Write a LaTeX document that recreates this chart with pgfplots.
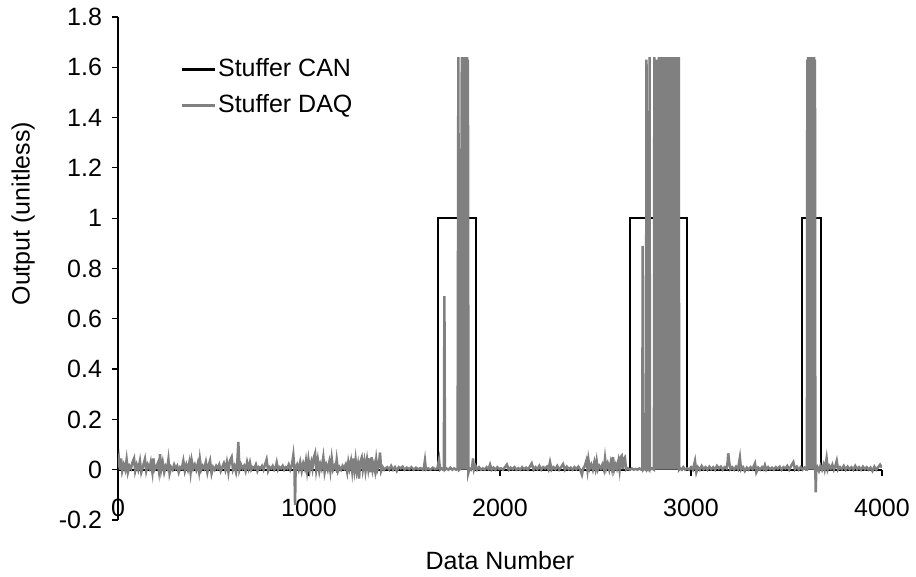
\documentclass[border=0pt]{standalone}
\usepackage{pgfplots}
\pgfplotsset{compat=1.18}
\usepackage{fontspec}
\setmainfont{Liberation Sans}
\definecolor{daqgray}{RGB}{128,128,128}
\begin{document}
\begin{tikzpicture}
\begin{axis}[
  scale only axis,
  width=382pt, height=251.5pt,
  xmin=0, xmax=4000, ymin=-0.2, ymax=1.8,
  axis x line=middle, axis y line=left,
  axis line style={-, black, line width=0.6pt},
  xtick={0,1000,2000,3000,4000},
  ytick={-0.2,0,0.2,0.4,0.6,0.8,1,1.2,1.4,1.6,1.8},
  tick align=outside,
  xtick align=outside, ytick align=outside,
  major tick length=3pt,
  tick style={black, line width=0.6pt},
  hide obscured x ticks=false, hide obscured y ticks=false,
  /pgf/number format/assume math mode=true,
  /pgf/number format/1000 sep={},
  scaled ticks=false,
  ticklabel style={font=\fontsize{12.5}{14}\selectfont},
  xticklabel style={yshift=-8pt},
  yticklabel style={xshift=-1.5pt},
  xlabel={Data Number},
  ylabel={Output (unitless)},
  label style={font=\fontsize{12.5}{14}\selectfont},
  xlabel style={at={(axis description cs:0.5,-0.0815)}, anchor=center},
  ylabel style={at={(axis description cs:-0.124,0.609)}, anchor=center, rotate=0},
  legend style={draw=none, fill=none, at={(axis description cs:0.081,0.922)}, anchor=north west,
    inner sep=0pt, row sep=5.5pt, font=\fontsize{12.5}{14}\selectfont,
    nodes={inner sep=1pt}},
  legend cell align=left,
  /tikz/every even column/.append style={column sep=2.5pt},
  legend image code/.code={\draw[#1, line width=1.4pt] (0pt,0pt) -- (16.5pt,0pt);},
  clip=true,
]
\addplot[black, line width=1.1pt] coordinates {
(0,0) (1675,0) (1675,1) (1875,1) (1875,0) (2681,0) (2681,1) (2978,1) (2978,0)
(3580,0) (3580,1) (3681,1) (3681,0) (4000,0)
};
\addlegendentry{Stuffer CAN}
\addplot[daqgray, line width=1.25pt] coordinates {
(0,0.01) (5,0.04) (10,0.0) (16,0.045) (22,-0.005) (30,0.02) (38,0.0) (45,0.04) (52,-0.01) (60,0.015)
(68,0.005) (76,0.03) (84,0.045) (90,-0.005) (98,0.02) (106,0.0) (115,0.035) (122,-0.01) (130,0.01)
(141,0.042) (148,-0.005) (156,0.02) (165,0.005) (172,0.03) (180,-0.01) (185,0.045) (192,0.0) (200,0.01)
(208,0.025) (214,-0.005) (220,0.062) (226,0.0) (234,0.03) (242,-0.01) (250,0.015) (258,0.005) (264,0.04)
(270,-0.015) (278,0.01) (286,0.0) (294,0.02) (302,0.005) (310,0.015) (318,-0.01) (326,0.01) (334,0.005)
(342,0.035) (350,-0.005) (358,0.02) (366,0.0) (374,0.03) (380,-0.01) (386,0.036) (394,0.005) (402,0.02)
(410,0.0) (418,0.025) (424,-0.005) (429,0.04) (436,0.0) (444,0.015) (452,0.005) (460,0.03) (468,-0.01)
(476,0.02) (482,0.036) (490,-0.015) (498,0.01) (506,0.0) (514,0.015) (522,0.005) (530,0.02) (538,-0.005)
(546,0.01) (554,0.025) (562,0.0) (570,0.03) (578,-0.01) (586,0.035) (595,0.05) (602,0.0) (610,0.015)
(618,-0.01) (624,0.02) (630,0.11) (636,0.0) (644,0.02) (652,0.005) (660,0.015) (668,-0.005) (676,0.03)
(684,0.005) (691,0.028) (698,0.0) (706,0.01) (714,0.005) (722,0.02) (730,-0.005) (738,0.01) (746,0.005)
(754,0.015) (762,0.0) (770,0.02) (778,0.04) (786,-0.005) (794,0.01) (802,0.005) (810,0.015) (818,0.0)
(826,0.01) (831,0.028) (838,0.0) (846,0.01) (854,0.005) (862,0.015) (870,0.0) (878,0.01) (886,0.005)
(894,0.02) (902,0.0) (910,0.015) (918,0.058) (924,0.0) (927,-0.14) (930,0.005) (938,0.02) (946,0.0)
(954,0.03) (962,-0.005) (970,0.025) (978,0.005) (984,0.035) (990,-0.005) (997,0.04) (1004,0.0) (1012,0.03)
(1018,0.005) (1024,0.045) (1032,0.065) (1038,0.0) (1046,0.04) (1054,-0.005) (1060,0.02) (1066,0.005)
(1075,0.05) (1082,-0.01) (1090,0.02) (1098,0.0) (1106,0.03) (1112,-0.005) (1119,0.045) (1126,0.0)
(1134,0.015) (1140,0.005) (1145,0.04) (1152,-0.005) (1160,0.01) (1168,0.0) (1176,0.015) (1184,0.005)
(1192,0.02) (1200,-0.01) (1206,0.03) (1212,0.005) (1220,0.035) (1226,-0.005) (1232,0.045) (1238,0.0)
(1244,0.04) (1250,-0.005) (1256,0.02) (1262,-0.035) (1268,0.03) (1276,0.048) (1282,0.0) (1290,0.035)
(1296,-0.005) (1304,0.04) (1310,0.005) (1316,0.045) (1322,-0.01) (1328,0.05) (1334,0.0) (1340,0.02)
(1346,-0.005) (1352,0.04) (1358,0.0) (1366,0.02) (1372,0.068) (1378,-0.005) (1386,0.01) (1394,0.0)
(1400,0.005) (1410,0.01) (1420,0.0) (1430,0.015) (1440,0.0) (1450,0.01) (1460,-0.005) (1470,0.01)
(1480,0.005) (1490,0.012) (1500,0.0) (1512,0.008) (1524,0.002) (1536,0.01) (1548,0.0) (1560,0.008)
(1572,0.002) (1584,0.006) (1596,0.0) (1602,0.01) (1607,0.037) (1612,0.0) (1624,0.005) (1636,0.0)
(1648,0.008) (1660,0.002) (1672,0.005) (1681,0.04) (1686,0.0) (1694,0.005) (1702,0.0)
(1706,0.0) (1709,0.69) (1712,0.0) (1720,0.005) (1730,0.0) (1740,0.008) (1750,0.0) (1760,0.005) (1770,0.0)
(1778,0.003) (1782,1.64) (1786,0.0) (1793,0.005)
(1800,1.64) (1802,0.0) (1804,1.64) (1806,0.0) (1808,1.63) (1810,0.0) (1812,1.64) (1814,0.0) (1816,1.64)
(1818,0.0) (1820,1.63) (1822,0.0) (1824,1.64) (1826,0.0) (1828,1.64) (1830,0.0) (1832,1.63) (1835,-0.01)
(1840,0.005) (1848,0.0) (1854,0.01) (1859,0.045) (1864,0.0) (1872,0.015) (1880,0.0)
(1890,0.01) (1900,0.0) (1910,0.005) (1920,0.0) (1930,0.01) (1940,0.002) (1948,0.02) (1956,0.0) (1966,0.008)
(1976,0.0) (1986,0.01) (1996,0.002) (2006,0.005) (2016,0.0) (2026,0.01) (2036,0.02) (2046,0.0) (2056,0.008)
(2066,0.002) (2076,0.01) (2086,0.0) (2096,0.006) (2106,0.0) (2116,0.01) (2126,0.002) (2136,0.008) (2146,0.0)
(2156,0.012) (2166,0.025) (2176,0.0) (2186,0.01) (2196,0.002) (2206,0.015) (2216,0.0) (2226,0.01)
(2236,0.005) (2246,0.012) (2254,0.0) (2262,0.03) (2270,0.0) (2280,0.01) (2290,0.002) (2300,0.015) (2310,0.0)
(2320,0.01) (2330,0.022) (2340,0.0) (2350,0.012) (2360,0.002) (2370,0.008) (2380,0.0) (2390,0.01)
(2400,0.002) (2410,0.012) (2420,0.0) (2429,-0.02) (2436,0.005) (2444,0.015) (2452,0.035) (2458,0.0)
(2463,0.04) (2470,0.005) (2478,0.02) (2486,0.0) (2494,0.03) (2500,0.005) (2506,0.035) (2512,0.0)
(2520,0.015) (2528,0.005) (2536,0.02) (2544,0.0) (2550,0.045) (2556,0.005) (2564,0.025) (2572,0.0)
(2580,0.03) (2586,0.005) (2592,0.05) (2598,0.0) (2606,0.02) (2612,0.005) (2620,0.035) (2626,0.0)
(2632,0.05) (2637,0.055) (2642,0.002) (2648,0.045) (2654,0.05) (2660,0.0) (2670,0.005) (2680,0.0)
(2690,0.005) (2700,0.0) (2710,0.003) (2720,0.0) (2730,0.005) (2740,0.0) (2745,0.0) (2747,0.89) (2750,0.0)
(2756,0.005) (2764,0.0) (2767,1.63) (2770,0.0) (2776,0.005) (2781,0.0) (2783,1.64) (2785,0.0) (2795,0.005)
(2806,0.0) (2808,1.64) (2811,0.0) (2813,1.63) (2816,0.0) (2819,1.04) (2822,0.0) (2826,1.63) (2829,0.0)
(2832,1.64) (2834,0) (2836,1.63) (2838,0) (2840,1.64) (2842,0) (2844,1.64) (2846,0) (2848,1.63) (2850,0)
(2852,1.64) (2854,0) (2856,1.64) (2858,0) (2860,1.63) (2862,0) (2864,1.64) (2866,0) (2868,1.64) (2870,0)
(2872,1.63) (2874,0) (2876,1.64) (2878,0) (2880,1.64) (2882,0) (2884,1.63) (2886,0) (2888,1.64) (2890,0)
(2892,1.64) (2894,0) (2896,1.63) (2898,0) (2900,1.64) (2902,0) (2904,1.64) (2906,0) (2908,1.63) (2910,0)
(2912,1.64) (2914,0) (2916,1.64) (2918,0) (2920,1.63) (2922,0) (2924,1.64) (2926,0) (2928,1.64) (2930,0)
(2932,1.63) (2934,0) (2936,1.64) (2938,0.0)
(2944,0.005) (2952,0.0) (2960,0.01) (2970,0.0) (2980,0.005)
(2990,0.0) (3000,0.01) (3010,0.0) (3021,0.035) (3028,-0.01) (3036,0.01) (3046,0.0) (3056,0.015) (3066,0.002)
(3076,0.01) (3086,0.0) (3096,0.012) (3106,0.002) (3116,0.01) (3126,0.0) (3136,0.015) (3146,0.005)
(3156,0.012) (3166,0.0) (3176,0.01) (3186,0.005) (3192,0.03) (3195,0.065) (3200,0.03) (3206,0.002)
(3216,0.01) (3226,0.0) (3236,0.012) (3246,0.002) (3256,0.048) (3262,0.0) (3272,0.01) (3282,-0.005)
(3292,0.008) (3302,0.0) (3312,0.01) (3322,0.002) (3335,0.025) (3342,-0.01) (3352,0.008) (3362,0.0)
(3372,0.01) (3380,0.002) (3387,0.018) (3394,0.0) (3404,0.01) (3414,0.002) (3424,0.008) (3434,0.0)
(3444,0.01) (3454,0.004) (3464,0.012) (3474,0.0) (3484,0.01) (3494,0.005) (3504,0.015) (3514,0.0)
(3524,0.015) (3536,0.03) (3544,0.002) (3554,0.012) (3564,0.0) (3574,0.01) (3584,0.0) (3594,0.008)
(3602,0.0) (3607,0.0)
(3609,1.63) (3611,0) (3613,1.64) (3615,0) (3617,1.63) (3619,0) (3621,1.64) (3623,0) (3625,1.63) (3627,0)
(3629,1.64) (3631,0) (3633,1.63) (3635,0) (3637,1.64) (3639,0) (3641,1.63) (3643,0) (3645,1.64) (3647,0)
(3649,1.63) (3651,0.0) (3653,-0.09) (3656,0.0) (3662,0.01) (3670,-0.005) (3678,0.015) (3686,0.0)
(3694,0.02) (3700,0.0) (3705,0.02) (3710,0.045) (3716,0.0) (3724,0.015) (3732,0.005) (3740,0.02)
(3748,0.0) (3756,0.015) (3763,0.035) (3770,0.0) (3780,0.01) (3790,0.002) (3800,0.015) (3810,0.0)
(3820,0.012) (3830,0.002) (3840,0.01) (3850,0.0) (3860,0.015) (3870,0.002) (3880,0.01) (3890,0.0)
(3900,0.012) (3910,0.002) (3920,0.01) (3930,0.0) (3940,0.008) (3950,-0.005) (3960,0.012) (3970,0.0)
(3980,0.01) (3990,0.02) (4000,0.008)
};
\addlegendentry{Stuffer DAQ}
\end{axis}
\pgfresetboundingbox
\path (-59pt,-28.5pt) rectangle (399pt,260pt);
\end{tikzpicture}
\end{document}
